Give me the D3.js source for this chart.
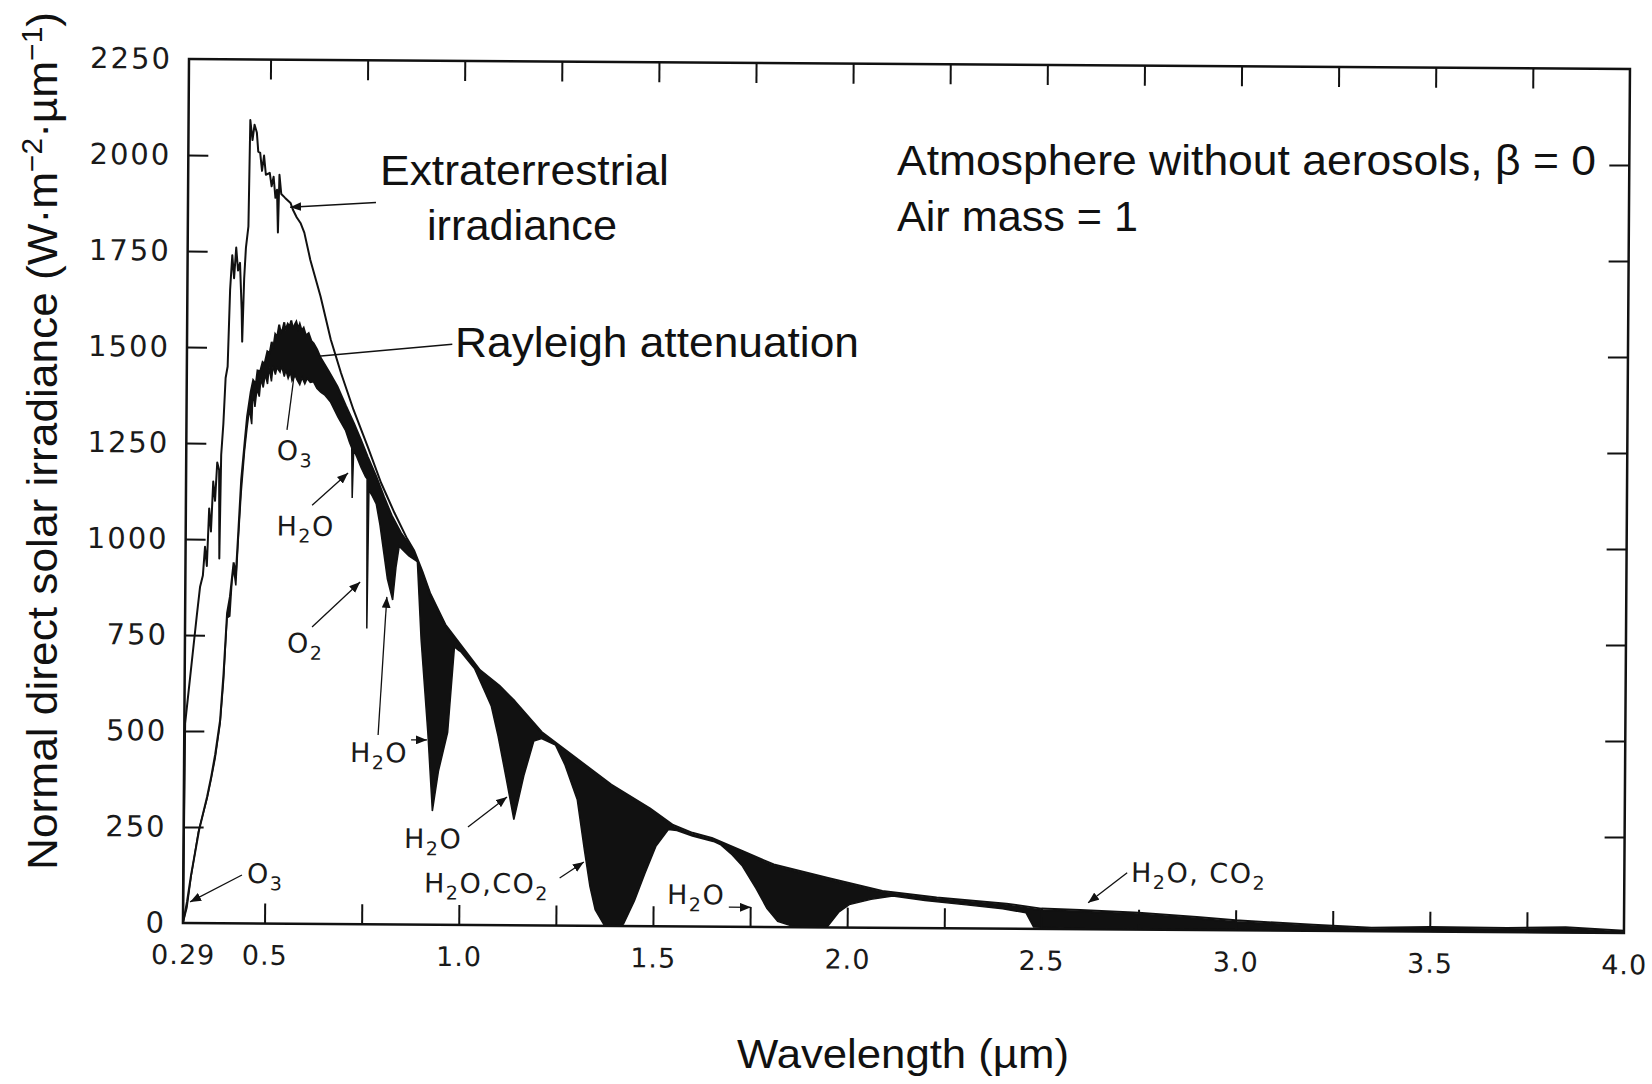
<!DOCTYPE html>
<html>
<head>
<meta charset="utf-8">
<script src="https://cdn.jsdelivr.net/npm/d3@7"></script>
<style>
  body { margin: 0; background: #fff; }
  .scan { font-family: "DejaVu Sans", sans-serif; font-weight: 400; fill: #1a1a1a; }
  .typed { font-family: "Liberation Sans", Arial, sans-serif; fill: #111; }
</style>
</head>
<body>
<script>
// wavelength (um), irradiance (W m-2 um-1)

// extraterrestrial irradiance (outer thin line)
var extraterrestrial = [
  [0.29,0],[0.292,520],[0.30,600],[0.31,700],[0.32,800],[0.328,876],[0.335,905],[0.34,980],
  [0.345,930],[0.35,1080],[0.355,1020],[0.36,1150],[0.365,1100],[0.37,1200],[0.375,1180],
  [0.377,950],[0.38,1220],[0.385,1300],[0.39,1420],[0.395,1450],[0.40,1650],[0.405,1740],
  [0.41,1680],[0.415,1760],[0.42,1700],[0.425,1720],[0.43,1600],[0.432,1515],[0.436,1680],
  [0.44,1760],[0.446,1815],[0.449,2092],[0.455,2040],[0.46,2080],[0.466,2060],[0.47,2010],
  [0.475,2007],[0.48,1960],[0.485,2000],[0.49,1950],[0.50,1955],[0.505,1920],[0.51,1945],
  [0.515,1890],[0.519,1911],[0.522,1800],[0.525,1950],[0.53,1900],[0.54,1890],[0.554,1877],
  [0.56,1860],[0.57,1840],[0.58,1825],[0.59,1800],[0.606,1729],[0.633,1634],[0.66,1522],
  [0.687,1435],[0.72,1339],[0.757,1244],[0.792,1150],[0.827,1072],[0.86,1005],[0.878,975],
  [0.90,920],[0.92,864],[0.96,782],[1.0,729],[1.05,664],[1.10,624],[1.14,584],[1.21,504],
  [1.30,436],[1.39,368],[1.49,307],[1.55,264],[1.60,244],[1.65,231],[1.73,197],[1.81,163],
  [1.95,129],[2.09,96],[2.23,80],[2.41,65],[2.50,53],[2.6,50],[2.75,44],[2.9,34],[3.0,26],
  [3.2,16],[3.35,9],[3.5,12],[3.7,11],[3.85,14],[4.0,6]
];

// after Rayleigh attenuation (upper edge of the black absorption bands)
var rayleigh = [
  [0.29,0],[0.30,55],[0.31,125],[0.33,243],[0.35,330],[0.36,381],[0.37,440],[0.382,529],
  [0.39,650],[0.398,808],[0.405,850],[0.41,900],[0.414,940],[0.42,910],[0.425,1010],
  [0.432,1155],[0.44,1250],[0.446,1320],[0.455,1385],[0.461,1415],[0.468,1405],[0.472,1440],
  [0.479,1438],[0.485,1462],[0.49,1458],[0.497,1490],[0.503,1486],[0.508,1515],[0.512,1498],
  [0.517,1535],[0.522,1528],[0.527,1560],[0.531,1540],[0.536,1548],[0.54,1566],[0.543,1545],
  [0.549,1562],[0.554,1555],[0.558,1571],[0.562,1552],[0.566,1558],[0.571,1568],[0.576,1550],
  [0.58,1562],[0.585,1545],[0.59,1552],[0.596,1532],[0.603,1538],[0.61,1518],[0.616,1512],
  [0.625,1496],[0.634,1475],[0.655,1440],[0.678,1400],[0.70,1350],[0.721,1305],[0.74,1260],
  [0.757,1218],[0.78,1165],[0.80,1113],[0.82,1065],[0.844,1020],[0.865,990],[0.878,969],
  [0.90,915],[0.92,860],[0.96,778],[1.0,725],[1.05,660],[1.10,620],[1.14,580],[1.21,500],
  [1.30,432],[1.39,364],[1.49,303],[1.55,260],[1.60,240],[1.65,227],[1.73,193],[1.81,159],
  [1.95,125],[2.09,92],[2.23,76],[2.41,61],[2.50,49],[2.6,46],[2.75,40],[2.9,30],[3.0,22],
  [3.2,12],[3.35,5],[3.5,8],[3.7,7],[3.85,10],[4.0,2]
];

// after gas absorption (lower edge of the black bands)
var absorbed = [
  [0.29,0],[0.30,40],[0.31,120],[0.328,238],[0.35,325],[0.36,375],[0.37,430],[0.382,520],
  [0.39,630],[0.398,795],[0.405,800],[0.41,890],[0.414,925],[0.42,880],[0.425,990],
  [0.432,1120],[0.44,1230],[0.446,1290],[0.452,1340],[0.458,1300],[0.461,1390],[0.466,1345],
  [0.471,1392],[0.477,1372],[0.481,1418],[0.487,1396],[0.492,1430],[0.498,1405],[0.502,1448],
  [0.508,1412],[0.512,1452],[0.518,1430],[0.522,1448],[0.53,1436],[0.534,1452],[0.541,1425],
  [0.545,1442],[0.551,1420],[0.557,1436],[0.561,1414],[0.569,1428],[0.574,1416],[0.581,1404],
  [0.587,1422],[0.594,1406],[0.60,1420],[0.608,1410],[0.616,1412],[0.625,1395],[0.635,1385],
  [0.645,1378],[0.66,1360],[0.68,1320],[0.70,1285],[0.71,1255],[0.716,1240],[0.718,1110],
  [0.721,1235],[0.73,1215],[0.74,1190],[0.752,1165],[0.756,1160],[0.758,770],[0.761,1130],
  [0.77,1115],[0.78,1095],[0.79,1040],[0.80,970],[0.81,900],[0.824,845],[0.832,930],
  [0.84,985],[0.85,975],[0.865,960],[0.887,945],[0.898,742],[0.917,500],[0.93,296],
  [0.945,400],[0.968,501],[0.984,724],[0.995,715],[1.0,712],[1.036,668],[1.06,615],
  [1.08,570],[1.098,492],[1.12,380],[1.14,275],[1.165,390],[1.19,480],[1.21,487],
  [1.246,470],[1.27,420],[1.303,328],[1.322,198],[1.337,103],[1.351,42],[1.374,3],[1.40,0],
  [1.424,5],[1.452,66],[1.479,139],[1.506,208],[1.538,252],[1.56,250],[1.60,236],
  [1.654,222],[1.672,214],[1.70,190],[1.728,160],[1.765,100],[1.793,49],[1.821,15],
  [1.858,3],[1.95,3],[1.978,40],[2.005,60],[2.061,74],[2.117,83],[2.2,72],[2.3,62],
  [2.4,52],[2.46,42],[2.48,5],[2.6,2],[3.0,2],[3.5,1],[4.0,0]
];

// axis ticks and labels
var xTicks = [0.5,0.75,1.0,1.25,1.5,1.75,2.0,2.25,2.5,2.75,3.0,3.25,3.5,3.75];
var xLabelValues = [0.29,0.5,1.0,1.5,2.0,2.5,3.0,3.5,4.0];
var xLabels = ["0.29","0.5","1.0","1.5","2.0","2.5","3.0","3.5","4.0"];
var yTicks = [250,500,750,1000,1250,1500,1750,2000];
var yLabelValues = [0,250,500,750,1000,1250,1500,1750,2000,2250];

// absorber labels: text parts ([string, subscript?]), anchor and pointer lines in data units
var gasLabels = [
  {parts:[["O",0],["3",1]], at:[0.523,1207], lines:[[[0.549,1286],[0.568,1442],0]]},
  {parts:[["H",0],["2",1],["O",0]], at:[0.524,1011], lines:[[[0.615,1090],[0.707,1175],1]]},
  {parts:[["O",0],["2",1]], at:[0.553,706], lines:[[[0.617,773],[0.74,891],1]]},
  {parts:[["H",0],["2",1],["O",0]], at:[0.717,422], lines:[[[0.789,493],[0.809,853],1],[[0.874,481],[0.915,481],1]]},
  {parts:[["H",0],["2",1],["O",0]], at:[0.858,199], lines:[[[1.022,255],[1.122,334],1]]},
  {parts:[["H",0],["2",1],["O,CO",0],["2",1]], at:[0.91,84], lines:[[[1.259,124],[1.321,166],1]]},
  {parts:[["H",0],["2",1],["O",0]], at:[1.536,58], lines:[[[1.695,51],[1.752,51],1]]},
  {parts:[["H",0],["2",1],["O, CO",0],["2",1]], at:[2.73,124], lines:[[[2.72,148],[2.62,69],1]]},
  {parts:[["O",0],["3",1]], at:[0.454,105], lines:[[[0.441,126],[0.308,55],1]]}
];

// pointers from the curve names to the curves
var curvePointers = [
  [[0.774,1880],[0.553,1866],1],
  [[0.973,1512],[0.628,1478],0]
];

var width = 1652, height = 1084;
var plotLeft = 189, plotTop = 59, plotW = 1441, plotH = 864;
var tilt = 0.4; // the scanned figure sits slightly rotated

var x = d3.scaleLinear().domain([0.29, 4.0]).range([0, plotW]);
var y = d3.scaleLinear().domain([0, 2250]).range([plotH, 0]);

var svg = d3.select("body").append("svg")
    .attr("width", width)
    .attr("height", height);

svg.append("defs").append("marker")
    .attr("id", "arrow")
    .attr("viewBox", "0 0 10 8")
    .attr("refX", 10)
    .attr("refY", 4)
    .attr("markerWidth", 11)
    .attr("markerHeight", 9)
    .attr("markerUnits", "userSpaceOnUse")
    .attr("orient", "auto")
  .append("path")
    .attr("d", "M0,0L10,4L0,8Z")
    .attr("fill", "#111");

var g = svg.append("g")
    .attr("transform", "translate(" + plotLeft + "," + plotTop + ") rotate(" + tilt + ")");

var line = d3.line()
    .x(function(d) { return x(d[0]); })
    .y(function(d) { return y(d[1]); });

// black absorption bands between the two lower curves
g.append("path")
    .attr("d", line(rayleigh.concat(absorbed.slice().reverse())) + "Z")
    .attr("fill", "#111");

g.append("path")
    .attr("d", line(absorbed))
    .attr("fill", "none")
    .attr("stroke", "#111")
    .attr("stroke-width", 1.5);

g.append("path")
    .attr("d", line(rayleigh))
    .attr("fill", "none")
    .attr("stroke", "#111")
    .attr("stroke-width", 2);

g.append("path")
    .attr("d", line(extraterrestrial))
    .attr("fill", "none")
    .attr("stroke", "#111")
    .attr("stroke-width", 2)
    .attr("stroke-linejoin", "round");

// frame
g.append("rect")
    .attr("width", plotW)
    .attr("height", plotH)
    .attr("fill", "none")
    .attr("stroke", "#111")
    .attr("stroke-width", 2.5);

function cleanAxis(sel) {
  sel.select(".domain").remove();
  sel.selectAll(".tick line").attr("stroke", "#111").attr("stroke-width", 2);
  sel.attr("font-size", null).attr("font-family", null);
}

// inward ticks on all four sides
g.append("g")
    .attr("transform", "translate(0," + plotH + ")")
    .call(d3.axisBottom(x).tickValues(xTicks).tickSize(-20).tickFormat(""))
    .call(cleanAxis);
g.append("g")
    .call(d3.axisTop(x).tickValues(xTicks).tickSize(-20).tickFormat(""))
    .call(cleanAxis);
g.append("g")
    .call(d3.axisLeft(y).tickValues(yTicks).tickSize(-20).tickFormat(""))
    .call(cleanAxis);
g.append("g")
    .attr("transform", "translate(" + plotW + ",0)")
    .call(d3.axisRight(y).tickValues(yTicks).tickSize(-20).tickFormat(""))
    .call(cleanAxis);

// tick labels
g.append("g")
    .attr("transform", "translate(0," + plotH + ")")
    .call(d3.axisBottom(x).tickValues(xLabelValues).tickSize(0).tickPadding(22)
      .tickFormat(function(d, i) { return xLabels[i]; }))
    .call(cleanAxis)
  .selectAll("text")
    .attr("class", "scan")
    .style("font-size", "27px")
    .style("letter-spacing", "1px");

g.append("g")
    .call(d3.axisLeft(y).tickValues(yLabelValues).tickSize(0).tickPadding(17)
      .tickFormat(d3.format("d")))
    .call(cleanAxis)
  .selectAll("text")
    .attr("class", "scan")
    .style("font-size", "29px")
    .style("letter-spacing", "2px");

// absorber labels
gasLabels.forEach(function(lab) {
  var t = g.append("text")
      .attr("class", "scan")
      .attr("x", x(lab.at[0]))
      .attr("y", y(lab.at[1]))
      .style("font-size", "27px")
      .style("letter-spacing", "1.5px");
  var shift = 0;
  lab.parts.forEach(function(p) {
    var dy = p[1] ? 7 - shift : -shift;
    shift = p[1] ? 7 : 0;
    t.append("tspan")
        .attr("dy", dy)
        .style("font-size", p[1] ? "19px" : "27px")
        .text(p[0]);
  });
  lab.lines.forEach(function(l) {
    g.append("line")
        .attr("x1", x(l[0][0])).attr("y1", y(l[0][1]))
        .attr("x2", x(l[1][0])).attr("y2", y(l[1][1]))
        .attr("stroke", "#111")
        .attr("stroke-width", 1.3)
        .attr("marker-end", l[2] ? "url(#arrow)" : null);
  });
});

curvePointers.forEach(function(l) {
  g.append("line")
      .attr("x1", x(l[0][0])).attr("y1", y(l[0][1]))
      .attr("x2", x(l[1][0])).attr("y2", y(l[1][1]))
      .attr("stroke", "#111")
      .attr("stroke-width", 1.5)
      .attr("marker-end", l[2] ? "url(#arrow)" : null);
});

// typed annotations
function typed(str, tx, ty, len) {
  return svg.append("text")
      .attr("class", "typed")
      .attr("x", tx)
      .attr("y", ty)
      .attr("font-size", 43)
      .attr("textLength", len)
      .attr("lengthAdjust", "spacingAndGlyphs")
      .text(str);
}
typed("Extraterrestrial", 380, 185, 289);
typed("irradiance", 427, 240, 190);
typed("Rayleigh attenuation", 455, 357, 404);
typed("Atmosphere without aerosols, \u03b2 = 0", 897, 175, 699);
typed("Air mass = 1", 897, 231, 241);

svg.append("text")
    .attr("class", "typed")
    .attr("x", 903)
    .attr("y", 1068)
    .attr("font-size", 40)
    .attr("text-anchor", "middle")
    .attr("textLength", 332)
    .attr("lengthAdjust", "spacingAndGlyphs")
    .text("Wavelength (\u00b5m)");

var yTitle = svg.append("text")
    .attr("class", "typed")
    .attr("transform", "translate(57,441) rotate(-90)")
    .attr("font-size", 43)
    .attr("text-anchor", "middle")
    .attr("textLength", 858)
    .attr("lengthAdjust", "spacingAndGlyphs");
yTitle.append("tspan").text("Normal direct solar irradiance (W\u00b7m");
yTitle.append("tspan").attr("dy", -15).attr("font-size", 29).text("\u22122");
yTitle.append("tspan").attr("dy", 15).text("\u00b7\u00b5m");
yTitle.append("tspan").attr("dy", -15).attr("font-size", 29).text("\u22121");
yTitle.append("tspan").attr("dy", 15).text(")");
</script>
</body>
</html>
